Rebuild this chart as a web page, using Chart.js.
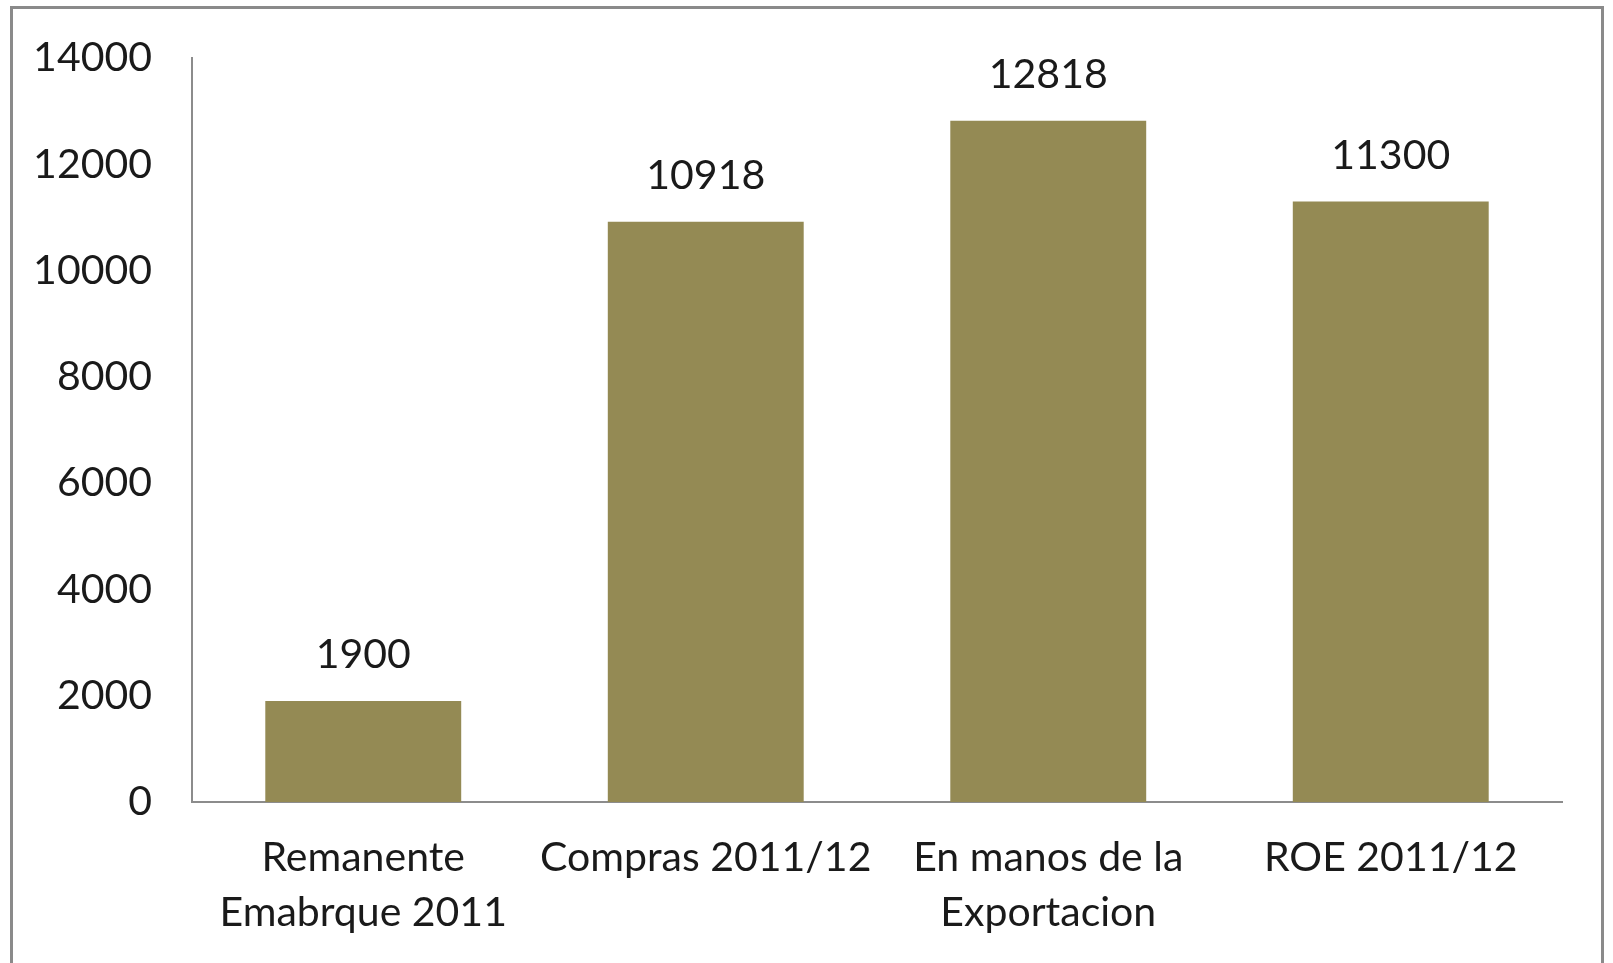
<!DOCTYPE html>
<html>
<head>
<meta charset="utf-8">
<script src="https://cdn.jsdelivr.net/npm/chart.js@4/dist/chart.umd.min.js"></script>
<style>
  html, body { margin: 0; padding: 0; background: #fff; overflow: hidden; }
  #wrap { position: relative; width: 1613px; height: 963px; }
  #frame { position: absolute; left: 10px; top: 6px; width: 1594px; height: 990px; border: 3px solid #8a8a8a; box-sizing: border-box; pointer-events: none; }
  canvas { position: absolute; left: 0; top: 0; }
</style>
</head>
<body>
<div id="wrap">
  <canvas id="myChart" width="1613" height="963"></canvas>
  <div id="frame"></div>
</div>
<script>
const categories = [["Remanente", "Emabrque 2011"], "Compras 2011/12", ["En manos de la", "Exportacion"], "ROE 2011/12"];
const values = [1900, 10918, 12818, 11300];
const yTicks = [0, 2000, 4000, 6000, 8000, 10000, 12000, 14000];

const fontFamily = "Lato, 'Noto Sans', sans-serif";
const fontSize = 41;

// value labels above each bar
const valueLabels = {
  id: 'valueLabels',
  afterDatasetsDraw: (chart) => {
    const {ctx} = chart;
    const meta = chart.getDatasetMeta(0);
    ctx.save();
    ctx.font = fontSize + "px " + fontFamily;
    ctx.fillStyle = '#1a1a1a';
    ctx.textAlign = 'center';
    ctx.textBaseline = 'middle';
    meta.data.forEach((bar, i) => {
      ctx.fillText(String(values[i]), bar.x, bar.y - 46);
    });
    ctx.restore();
  }
};

new Chart("myChart", {
  type: "bar",
  data: {
    labels: categories,
    datasets: [{
      data: values,
      backgroundColor: "#948A54",
      borderWidth: 0,
      barPercentage: 1,
      categoryPercentage: 0.572
    }]
  },
  options: {
    responsive: false,
    animation: false,
    layout: { padding: { left: 0, right: 51, top: 58, bottom: 0 } },
    plugins: { legend: { display: false }, tooltip: { enabled: false } },
    scales: {
      x: {
        grid: { display: false, drawTicks: false },
        border: { color: '#8c8c8c', width: 2 },
        ticks: { color: '#1a1a1a', padding: 29, maxRotation: 0, autoSkip: false,
                 font: { family: fontFamily, size: fontSize, lineHeight: 1.33 } },
        afterFit: (s) => { s.height = 963 - 802; }
      },
      y: {
        min: 0, max: 14000,
        grid: { display: false, drawTicks: false },
        border: { color: '#8c8c8c', width: 2 },
        afterBuildTicks: (s) => { s.ticks = yTicks.map(v => ({ value: v })); },
        ticks: { color: '#1a1a1a', padding: 40,
                 callback: (v) => String(v),
                 font: { family: fontFamily, size: fontSize } },
        afterFit: (s) => { s.width = 192; s.paddingTop = 0; s.paddingBottom = 0; }
      }
    }
  },
  plugins: [valueLabels]
});
</script>
</body>
</html>
